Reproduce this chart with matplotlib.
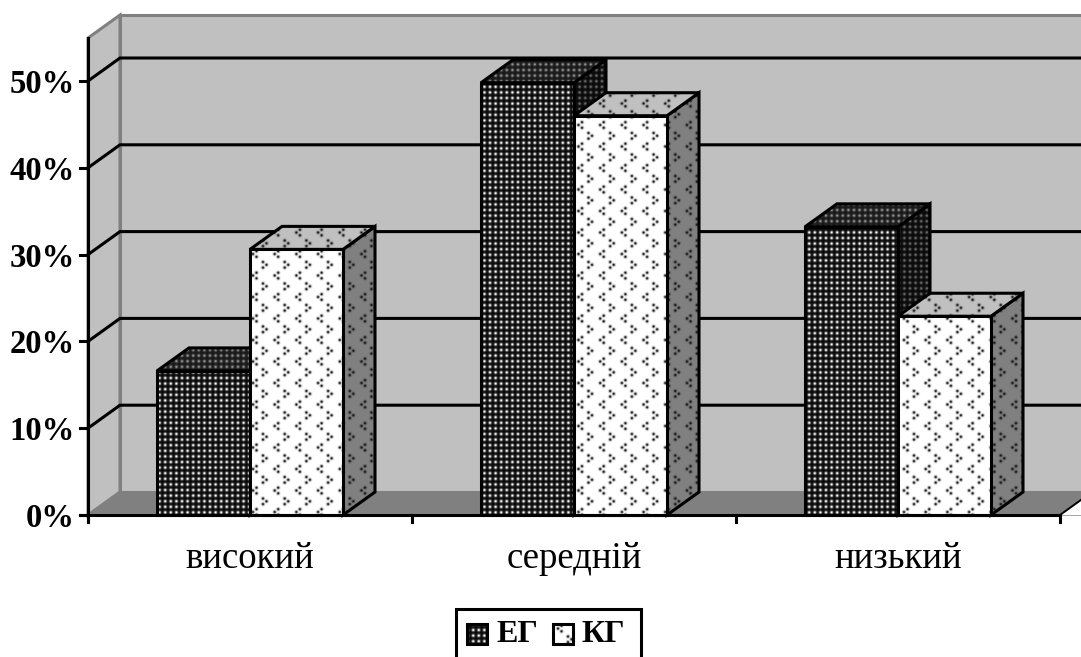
import numpy as np
import matplotlib
matplotlib.use("Agg")
import matplotlib.pyplot as plt
from matplotlib.patches import Polygon, Rectangle

# values, percent
categories = ["високий", "середній", "низький"]
eg_values = [16.6, 49.8, 33.2]
kg_values = [30.6, 46.0, 22.9]
y_ticks = [0, 10, 20, 30, 40, 50]
y_labels = ["0%", "10%", "20%", "30%", "40%", "50%"]
series_names = ["ЕГ", "КГ"]

W, H = 1081, 657
X0, Y0 = 88, 515       # pixel of the chart origin
PX_CAT = 324           # pixels per category
PX_VAL = 8.68          # pixels per percent
DX = 32 / PX_CAT       # 3d depth in data units
DY = 23 / PX_VAL
BAR_W = 93 / PX_CAT
Y_TOP = 54.95
LW = 2.2
GREY = "#808080"
WALL = "#c0c0c0"

plt.rcParams["font.family"] = ["Liberation Serif", "DejaVu Serif"]

fig = plt.figure(figsize=(W / 100, H / 100), dpi=100)
ax = fig.add_axes([0, 0, 1, 1])
ax.axis("off")
XLIM = (-X0 / PX_CAT, (W - X0) / PX_CAT)
YLIM = ((Y0 - H) / PX_VAL, Y0 / PX_VAL)

yy, xx = np.mgrid[0:H, 0:W]
layer = [4]  # running zorder, later faces cover earlier ones


def blobs(dx, dy, sigma):
    return np.exp(-(dx ** 2 + dy ** 2) / (2 * sigma ** 2))


def dot_texture(base, dot):
    # dark fill with a fine square grid of light dots
    p = 5.6
    dx = (xx + 0.5) % p - p / 2
    dy = (yy + 0.5) % p - p / 2
    m = blobs(dx, dy, 1.05)
    return base + (dot - base) * m


def chevron_layer(x0, y0, sign):
    m = np.zeros((H, W))
    px, py = 21.7, 21.5
    for ox, oy in [(2, -2.8), (-1.5, 0), (2, 2.8)]:
        dx = (xx - x0 - sign * ox + px / 2) % px - px / 2
        dy = (yy - y0 - oy + py / 2) % py - py / 2
        m = np.maximum(m, blobs(dx, dy, 1.05))
    return m


def chevron_texture(base, x0=254, y0=275):
    m = np.maximum(chevron_layer(x0, y0, 1), chevron_layer(x0 + 10.5, y0 - 10.7, -1))
    return base + (20 - base) * m


def textured(poly_pts, tex):
    layer[0] += 0.1
    poly = Polygon(poly_pts, closed=True, facecolor="none", edgecolor="black", lw=LW,
                   joinstyle="miter", zorder=layer[0] + 0.05)
    ax.add_patch(poly)
    im = ax.imshow(tex, cmap="gray", vmin=0, vmax=255, extent=(*XLIM, *YLIM), origin="upper",
                   aspect="auto", interpolation="nearest", zorder=layer[0])
    im.set_clip_path(poly)
    return poly


def draw_bar(x, v, tex_front, tex_top, tex_side):
    front = [(x, 0), (x + BAR_W, 0), (x + BAR_W, v), (x, v)]
    top = [(x, v), (x + BAR_W, v), (x + BAR_W + DX, v + DY), (x + DX, v + DY)]
    side = [(x + BAR_W, 0), (x + BAR_W + DX, DY), (x + BAR_W + DX, v + DY), (x + BAR_W, v)]
    for pts, tex in [(side, tex_side), (top, tex_top), (front, tex_front)]:
        textured(pts, tex)


eg_front = dot_texture(10, 255)
eg_top = dot_texture(25, 150)
eg_side = dot_texture(10, 110)
kg_front = chevron_texture(255)
kg_top = chevron_texture(192)
kg_side = chevron_texture(128)

# walls and floor
n = len(categories)
right = XLIM[1] + 1
ax.add_patch(Polygon([(DX, DY), (right, DY), (right, Y_TOP + DY), (DX, Y_TOP + DY)],
                     facecolor=WALL, edgecolor=GREY, lw=LW, zorder=1))
ax.add_patch(Polygon([(0, 0), (DX, DY), (DX, Y_TOP + DY), (0, Y_TOP)],
                     facecolor=WALL, edgecolor=GREY, lw=LW, zorder=1))
ax.add_patch(Polygon([(0, 0), (DX, DY), (right, DY), (right, 0)],
                     facecolor=GREY, edgecolor=GREY, lw=1, zorder=1))
ax.add_patch(Polygon([(n, 0), (XLIM[1], (XLIM[1] - n) / DX * DY), (right, 0)],
                     facecolor="white", edgecolor="none", zorder=1.5))

# gridlines run across the left wall and the back wall
for v in y_ticks[1:]:
    ax.plot([0, DX, right], [v, v + DY, v + DY], color="black", lw=LW, zorder=2,
            solid_joinstyle="miter")

# bars
for i in range(n):
    draw_bar(i + 0.5 - BAR_W, eg_values[i], eg_front, eg_top, eg_side)
    draw_bar(i + 0.5, kg_values[i], kg_front, kg_top, kg_side)

# axes lines and ticks
tick_x = 8 / PX_CAT
tick_y = 7 / PX_VAL
ax.plot([0, 0], [-tick_y, Y_TOP], color="black", lw=LW, zorder=6)
ax.plot([-tick_x, n], [0, 0], color="black", lw=LW, zorder=6)
ax.plot([n, XLIM[1]], [0, (XLIM[1] - n) / DX * DY], color="black", lw=1.4, zorder=6)
for v, lab in zip(y_ticks, y_labels):
    ax.plot([-tick_x, 0], [v, v], color="black", lw=LW, zorder=6)
    ax.text(-13 / PX_CAT, v - 3.5 / PX_VAL, lab, ha="right", va="center", fontsize=23.5,
            fontweight="bold", zorder=6)
for i in range(n + 1):
    ax.plot([i, i], [-tick_y, 0], color="black", lw=LW, zorder=6)
for i, lab in enumerate(categories):
    ax.text(i + 0.5, -44 / PX_VAL, lab, ha="center", va="center", fontsize=26.5, zorder=6)

ax.set_xlim(*XLIM)
ax.set_ylim(*YLIM)


# legend, placed in figure pixels (y measured from the top)
def to_fig(px, py):
    return px / W, 1 - py / H


lx0, ly0 = to_fig(456, 609)
lx1, ly1 = to_fig(641, H + 5)
fig.add_artist(Rectangle((lx0, ly1), lx1 - lx0, ly0 - ly1, transform=fig.transFigure,
                         facecolor="white", edgecolor="black", lw=LW, zorder=7))
key_ax = fig.add_axes([0, 0, 1, 1], zorder=8)
key_ax.axis("off")
key_ax.patch.set_alpha(0)
key_ax.set_xlim(0, W)
key_ax.set_ylim(H, 0)
for kx, tex in [(467, eg_front), (553, chevron_texture(255, 559, 628))]:
    r = Rectangle((kx, 624), 20, 20, facecolor="none", edgecolor="black", lw=LW, zorder=5)
    key_ax.add_patch(r)
    im = key_ax.imshow(tex, cmap="gray", vmin=0, vmax=255, extent=(0, W, H, 0), aspect="auto",
                       interpolation="nearest", zorder=4)
    im.set_clip_path(r)
key_ax.set_xlim(0, W)
key_ax.set_ylim(H, 0)
for tx, lab in zip([496, 582], series_names):
    key_ax.text(tx, 635, lab, ha="left", va="center", fontsize=23, fontweight="bold", zorder=6)

fig.savefig("out.png", dpi=100)
